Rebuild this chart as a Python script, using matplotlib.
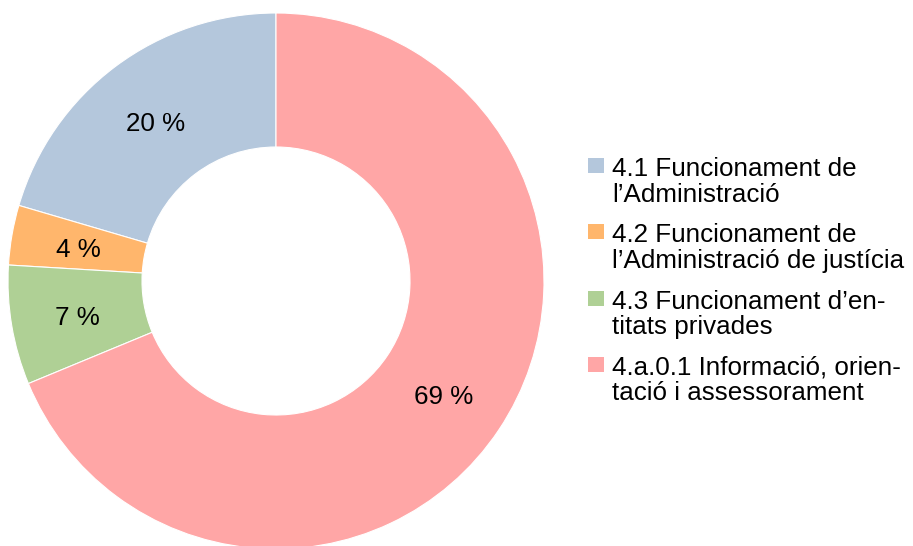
import matplotlib.pyplot as plt
from matplotlib.patches import Rectangle

plt.rcParams['font.family'] = ['Liberation Sans', 'DejaVu Sans']

# Données
categories = ['4.1 Funcionament de\nl\u2019Administració',
              '4.2 Funcionament de\nl\u2019Administració de justícia',
              '4.3 Funcionament d\u2019en-\ntitats privades',
              '4.a.0.1 Informació, orien-\ntació i assessorament']
valors = [20.45, 3.6, 7.2, 68.75]
etiquetes = ['20 %', '4 %', '7 %', '69 %']
colors = ['#b4c7dc', '#ffb66c', '#afd095', '#ffa6a6']

fig = plt.figure(figsize=(9.13, 5.46), dpi=100)
W, H = 913, 546
fs = 18.7

# Donut : centre (276, 281) px, rayon 268 px
cx, cy, r = 276, 281, 268
ax = fig.add_axes([(cx - r) / W, (H - cy - r) / H, 2 * r / W, 2 * r / H])
wedges, texts = ax.pie(valors, colors=colors, startangle=90, counterclock=True,
                       radius=1, labels=etiquetes, labeldistance=0.75,
                       wedgeprops=dict(width=0.5, edgecolor='white', linewidth=0.8),
                       textprops=dict(fontsize=fs, color='black'))
# centrage visuel des chiffres (pas de jambages)
for t in texts:
    t.set_ha('center')
    t.set_va('center')
    x, y = t.get_position()
    t.set_position((x, y - 4 / r))
ax.set_xlim(-1, 1)
ax.set_ylim(-1, 1)
ax.set_aspect('equal')
ax.axis('off')

# Légende dessinée à la main (carré aligné sur la première ligne)
base0 = 176
for i, (lab, col) in enumerate(zip(categories, colors)):
    b = base0 + i * 66.3
    fig.patches.append(Rectangle((588 / W, 1 - (b - 3) / H), 16 / W, 15 / H,
                                 transform=fig.transFigure, facecolor=col, edgecolor='none'))
    for j, ligne in enumerate(lab.split('\n')):
        fig.text(612 / W, 1 - (b + j * 25.5) / H, ligne, fontsize=fs,
                 va='baseline', ha='left')

plt.savefig('out.png', dpi=100)
